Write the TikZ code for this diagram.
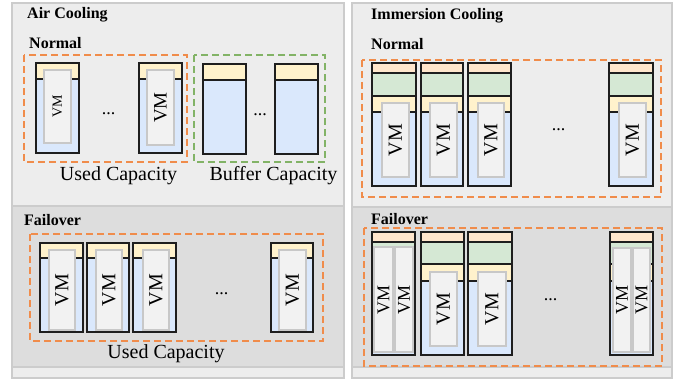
\documentclass[tikz,border=0pt]{standalone}
\usepackage{fontspec}
\setmainfont{Liberation Serif}
\definecolor{panelfill}{RGB}{237,237,237}
\definecolor{panelline}{RGB}{204,204,204}
\definecolor{bandfill}{RGB}{221,221,221}
\definecolor{blu}{RGB}{218,232,252}
\definecolor{yel}{RGB}{255,242,204}
\definecolor{grn}{RGB}{213,232,212}
\definecolor{pch}{RGB}{255,230,204}
\definecolor{vmfill}{RGB}{242,242,242}
\definecolor{vmline}{RGB}{200,200,200}
\definecolor{orng}{RGB}{240,140,75}
\definecolor{grnd}{RGB}{130,179,102}
\definecolor{srvl}{RGB}{30,30,30}
\tikzset{
  panelbox/.style={fill=panelfill, draw=panelline, line width=1.2pt},
  bandbox/.style={fill=bandfill, draw=panelline, line width=1.2pt},
  srvline/.style={draw=srvl, line width=1.1pt},
  vmrect/.style={fill=vmfill, draw=vmline, line width=1.3pt},
  odash/.style={draw=orng, line width=1.5pt, dash pattern=on 7pt off 4pt},
  gdash/.style={draw=grnd, line width=1.5pt, dash pattern=on 7pt off 4pt},
  ttltext/.style={font=\fontsize{16}{18}\selectfont\bfseries, anchor=base west, inner sep=0},
  captext/.style={font=\fontsize{20}{22}\selectfont, anchor=base, inner sep=0},
  dotstext/.style={font=\fontsize{18}{20}\selectfont, anchor=base, inner sep=0}
}
\newcommand{\airsrv}[5]{%
  \fill[yel] (#1,#3) rectangle (#2,#4);
  \fill[blu] (#1,#4) rectangle (#2,#5);
  \draw[srvline] (#1,#4) -- (#2,#4);}
\newcommand{\imsrv}[7]{%
  \fill[pch] (#1,#3) rectangle (#2,#4);
  \fill[grn] (#1,#4) rectangle (#2,#5);
  \fill[yel] (#1,#5) rectangle (#2,#6);
  \fill[blu] (#1,#6) rectangle (#2,#7);
  \draw[srvline] (#1,#4) -- (#2,#4) (#1,#5) -- (#2,#5) (#1,#6) -- (#2,#6);}
\newcommand{\srvbox}[4]{\draw[srvline] (#1,#3) rectangle (#2,#4);}
\newcommand{\vmbox}[5]{%
  \draw[vmrect] (#1,#2) rectangle (#3,#4);
  \node[rotate=90, font=\fontsize{#5}{#5}\selectfont, inner sep=0] at ({(#1+#3)/2},{(#2+#4)/2}) {VM};}
\begin{document}
\begin{tikzpicture}[x=1pt,y=-1pt]
\useasboundingbox (0,0) rectangle (681,379);
% panels
\draw[panelbox] (12,3) rectangle (344,378);
\draw[bandbox] (12,206) rectangle (344,367);
\draw[panelbox] (352,3) rectangle (672,378);
\draw[bandbox] (352,207) rectangle (672,367);
% titles
\node[ttltext] (tac) at (27,19) {Air Cooling};
\node[ttltext] (tan) at (29,49) {Normal};
\node[ttltext] (taf) at (24,225.5) {Failover};
\node[ttltext] (tic) at (371,20) {Immersion Cooling};
\node[ttltext] (tin) at (371,50) {Normal};
\node[ttltext] (tif) at (371,225) {Failover};
% ---------- Air normal ----------
\airsrv{36}{79}{63}{79}{153}
\vmbox{44}{70}{71}{143}{14}
\srvbox{36}{79}{63}{153}
\airsrv{139}{182}{63}{79}{153}
\vmbox{147}{70}{174}{145}{19}
\srvbox{139}{182}{63}{153}
\airsrv{203}{246}{64}{80}{154}
\srvbox{203}{246}{64}{154}
\airsrv{275}{318}{64}{80}{154}
\srvbox{275}{318}{64}{154}
\node[dotstext] (d1) at (108.5,115) {...};
\node[dotstext] (d2) at (260,116) {...};
\draw[odash] (24,55) rectangle (187,162);
\draw[gdash] (194,55) rectangle (325,162);
\node[captext] (uc1) at (118.5,181) {Used Capacity};
\node[captext] (bc1) at (273.5,181) {Buffer Capacity};
% ---------- Air failover ----------
\airsrv{40}{83}{243}{258}{332}
\vmbox{49}{250}{75}{330}{20}
\srvbox{40}{83}{243}{332}
\airsrv{87}{129}{243}{258}{332}
\vmbox{96}{250}{122}{330}{20}
\srvbox{87}{129}{243}{332}
\airsrv{133}{176}{243}{258}{332}
\vmbox{143}{250}{169}{330}{20}
\srvbox{133}{176}{243}{332}
\airsrv{271}{313}{243}{258}{332}
\vmbox{279}{250}{306}{330}{20}
\srvbox{271}{313}{243}{332}
\node[dotstext] (d3) at (221.5,295) {...};
\draw[odash] (30,234) rectangle (323,341);
\node[captext] (uc2) at (166,359) {Used Capacity};
% ---------- Immersion normal ----------
\imsrv{372}{416}{63}{73}{96}{112}{186}
\vmbox{382}{103}{409}{177}{20}
\srvbox{372}{416}{63}{186}
\imsrv{421}{463}{63}{73}{96}{112}{186}
\vmbox{430}{103}{457}{177}{20}
\srvbox{421}{463}{63}{186}
\imsrv{468}{511}{63}{73}{96}{112}{186}
\vmbox{478}{103}{504}{177}{20}
\srvbox{468}{511}{63}{186}
\imsrv{609}{653}{63}{73}{96}{112}{186}
\vmbox{619}{103}{646}{177}{20}
\srvbox{609}{653}{63}{186}
\node[dotstext] (d4) at (558.5,131) {...};
\draw[odash] (362,60) rectangle (661,197);
% ---------- Immersion failover ----------
\imsrv{372}{415}{232}{242}{264}{281}{355}
\vmbox{374}{247}{393}{352}{18}
\vmbox{395}{247}{413}{352}{18}
\srvbox{372}{415}{232}{355}
\imsrv{421}{464}{232}{242}{264}{281}{355}
\vmbox{430}{272}{457}{346}{20}
\srvbox{421}{464}{232}{355}
\imsrv{468}{512}{232}{242}{264}{281}{355}
\vmbox{478}{272}{506}{346}{20}
\srvbox{468}{512}{232}{355}
\imsrv{610}{653}{232}{242}{264}{281}{355}
\vmbox{613}{248}{631}{352}{18}
\vmbox{633}{248}{650}{352}{18}
\srvbox{610}{653}{232}{355}
\node[dotstext] (d5) at (550.5,301) {...};
\draw[odash] (364,228) rectangle (662,366);
\end{tikzpicture}
\end{document}
